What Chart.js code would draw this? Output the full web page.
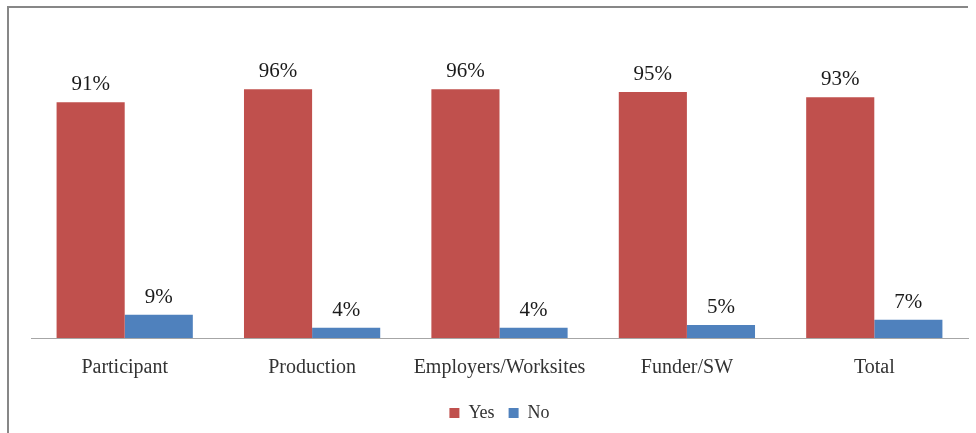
<!DOCTYPE html>
<html>
<head>
<meta charset="utf-8">
<script src="https://cdn.jsdelivr.net/npm/chart.js@4/dist/chart.umd.min.js"></script>
<style>
  html, body { margin: 0; padding: 0; background: #fff; }
  #wrap { width: 976px; height: 433px; position: relative; }
</style>
</head>
<body>
<div id="wrap"><canvas id="myChart" width="976" height="433"></canvas></div>
<script>
const categories = ["Participant", "Production", "Employers/Worksites", "Funder/SW", "Total"];
const yesValues = [91, 96, 96, 95, 93];
const noValues = [9, 4, 4, 5, 7];

const serif = "'Liberation Serif', 'DejaVu Serif', serif";

// frame lines on the left and top of the chart box
const framePlugin = {
  id: "frame",
  beforeDraw(chart) {
    const ctx = chart.ctx;
    ctx.save();
    ctx.strokeStyle = "#878787";
    ctx.lineWidth = 2;
    ctx.beginPath();
    ctx.moveTo(8, 433);
    ctx.lineTo(8, 7);
    ctx.lineTo(968, 7);
    ctx.stroke();
    ctx.restore();
  },
};

// percent labels above every bar
const valueLabels = {
  id: "valueLabels",
  afterDatasetsDraw(chart) {
    const ctx = chart.ctx;
    ctx.save();
    ctx.font = "21px " + serif;
    ctx.fillStyle = "#1a1a1a";
    ctx.textAlign = "center";
    ctx.textBaseline = "bottom";
    chart.data.datasets.forEach((ds, i) => {
      chart.getDatasetMeta(i).data.forEach((bar, j) => {
        ctx.fillText(ds.data[j] + "%", bar.x, bar.y - 7);
      });
    });
    ctx.restore();
  },
};

const data = {
  labels: categories,
  datasets: [
    {
      label: "Yes",
      backgroundColor: "#C0504D",
      data: yesValues,
    },
    {
      label: "No",
      backgroundColor: "#4F81BD",
      data: noValues,
    },
  ],
};

const config = {
  type: "bar",
  data: data,
  options: {
    responsive: false,
    animation: false,
    layout: { padding: { left: 31, right: 8, top: 79, bottom: 1 } },
    datasets: {
      bar: { barPercentage: 1, categoryPercentage: 0.727 },
    },
    scales: {
      x: {
        grid: { display: false },
        border: { display: true, color: "#a6a6a6", width: 1 },
        ticks: {
          color: "#333",
          padding: 10,
          font: { family: serif, size: 20 },
        },
      },
      y: {
        display: false,
        min: 0,
        max: 100,
      },
    },
    plugins: {
      tooltip: { enabled: false },
      legend: {
        position: "bottom",
        labels: {
          boxWidth: 10,
          boxHeight: 10,
          padding: 14,
          color: "#333",
          font: { family: serif, size: 18 },
        },
      },
    },
  },
  plugins: [framePlugin, valueLabels],
};

const myChart = new Chart(document.getElementById("myChart"), config);
</script>
</body>
</html>
